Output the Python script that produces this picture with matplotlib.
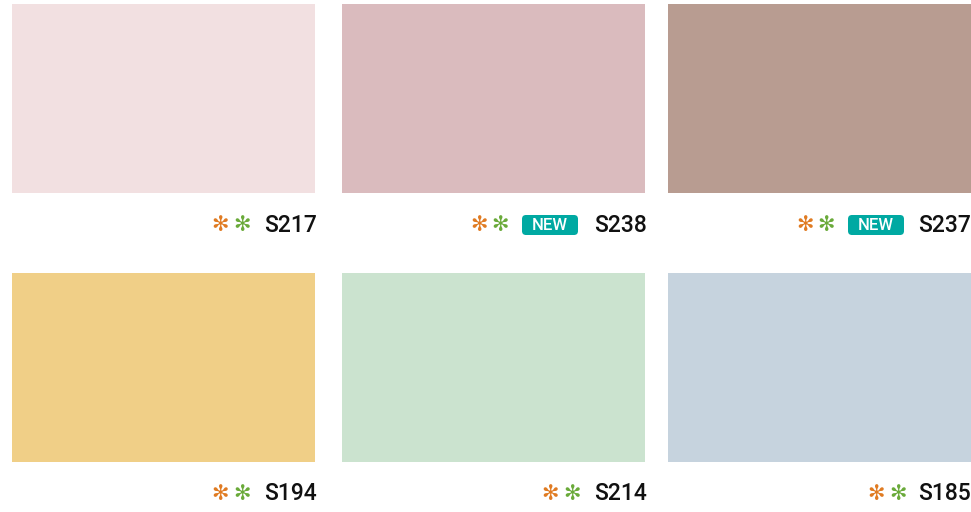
import matplotlib.pyplot as plt
from matplotlib.patches import Rectangle, FancyBboxPatch

codes = ['S217', 'S238', 'S237', 'S194', 'S214', 'S185']
swatch_colors = ['#F2E0E1', '#DABBBE', '#B89C91', '#F0CF87', '#CBE3CF', '#C6D3DE']
is_new = [False, True, True, False, False, False]

col_left = [12, 342, 668]
col_right = [315, 645, 971]
row_top = [4, 273]
swatch_h = 189

fig = plt.figure(figsize=(9.71, 5.12), dpi=100)
ax = fig.add_axes([0, 0, 1, 1])
ax.set_xlim(0, 971)
ax.set_ylim(512, 0)
ax.axis('off')

for i, code in enumerate(codes):
    r, c = divmod(i, 3)
    x0, x1 = col_left[c], col_right[c]
    y0 = row_top[r]
    ax.add_patch(Rectangle((x0, y0), x1 - x0, swatch_h, facecolor=swatch_colors[i],
                           edgecolor='none'))

    ty = y0 + swatch_h + 32
    tx = x1 + 2 if c < 2 else x1
    ax.text(tx, ty, code, ha='right', va='center', fontsize=16.5,
            family='Roboto', weight='medium', color='#111111')

    if is_new[i]:
        ax.add_patch(FancyBboxPatch((x1 - 123, ty - 10), 56, 20,
                                    boxstyle='round,pad=0,rounding_size=4',
                                    facecolor='#00A9A2', edgecolor='none'))
        ax.text(x1 - 95, ty + 0.5, 'NEW', ha='center', va='center', fontsize=12,
                family='Roboto', weight='medium', color='white')
        ast_x = [x1 - 166, x1 - 145]
    else:
        ast_x = [x1 - 95, x1 - 73]

    ax.text(ast_x[0], ty, '\u273B', ha='center', va='center', fontsize=15,
            family='DejaVu Sans', weight='bold', color='#E07B22')
    ax.text(ast_x[1], ty, '\u273B', ha='center', va='center', fontsize=15,
            family='DejaVu Sans', weight='bold', color='#6AAA3A')

fig.savefig('out.png', dpi=100)
